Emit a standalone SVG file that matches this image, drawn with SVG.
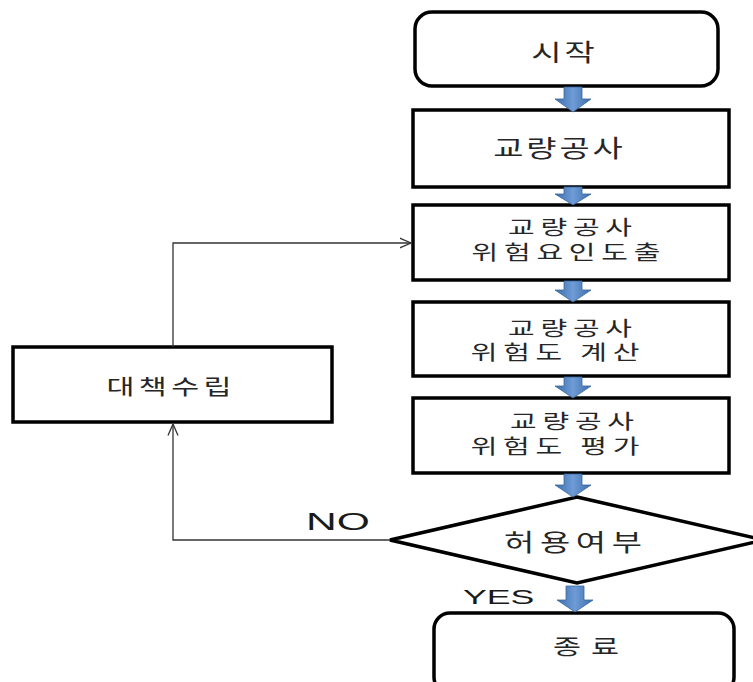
<svg xmlns="http://www.w3.org/2000/svg" width="753" height="682" viewBox="0 0 753 682">
<style>
.box{fill:#fff;stroke:#000;stroke-width:3.5}
.t{font-family:"Noto Sans CJK KR","Noto Sans",sans-serif;font-size:21px;fill:#262626;text-anchor:middle;letter-spacing:3px}
.big{font-size:23.5px;letter-spacing:2px}
.two{font-size:20px;letter-spacing:4px}
.lat{font-family:"Liberation Sans",Arial,sans-serif;fill:#1a1a1a}
.ln{fill:none;stroke:#333;stroke-width:1.3}
.blk{fill:url(#bg);stroke:#3a67a0;stroke-width:0.8}
</style>
<defs>
<linearGradient id="bg" x1="0" y1="0" x2="1" y2="0">
<stop offset="0" stop-color="#3b6cab"/>
<stop offset="0.5" stop-color="#6f9cd6"/>
<stop offset="1" stop-color="#3b6cab"/>
</linearGradient>
<marker id="oa" viewBox="0 0 12 12" markerWidth="12" markerHeight="12" refX="11.5" refY="6" orient="auto" markerUnits="userSpaceOnUse">
<path d="M0,1 L11.5,6 L0,11" fill="none" stroke="#333" stroke-width="1.3"/>
</marker>
</defs>
<rect width="753" height="682" fill="#fff"/>
<g id="start">
<rect class="box" x="415" y="12" width="303" height="74" rx="17"/>
<text class="t big" x="1" y="0" transform="translate(563,61) scale(1.4,1)">시작</text>
</g>
<g id="bridge">
<rect class="box" x="413" y="110" width="316" height="77"/>
<text class="t big" x="1" y="0" transform="translate(558,157) scale(1.4,1)">교량공사</text>
</g>
<g id="hazard">
<rect class="box" x="413" y="205" width="316" height="75"/>
<text class="t two" transform="translate(570,235) scale(1.45,1)"><tspan x="2" y="0">교량공사</tspan><tspan x="-0.8" y="25">위험요인도출</tspan></text>
</g>
<g id="calc">
<rect class="box" x="413" y="302" width="316" height="74"/>
<text class="t two" transform="translate(570,336) scale(1.45,1)"><tspan x="2" y="0">교량공사</tspan><tspan x="-8.3" y="24">위험도 계산</tspan></text>
</g>
<g id="eval">
<rect class="box" x="413" y="398" width="316" height="75"/>
<text class="t two" transform="translate(572,429) scale(1.45,1)"><tspan x="2" y="0">교량공사</tspan><tspan x="-9.7" y="25">위험도 평가</tspan></text>
</g>
<g id="decision">
<polygon class="box" points="577,497 764,540 577,583 390,540"/>
<text class="t big" x="2" y="0" transform="translate(573,551) scale(1.4,1)" style="letter-spacing:4px">허용여부</text>
</g>
<g id="end">
<rect class="box" x="434" y="613" width="300" height="80" rx="16"/>
<text class="t" x="3.5" y="0" transform="translate(586,654) scale(1.45,1)" style="letter-spacing:7px">종료</text>
</g>
<g id="measure">
<rect class="box" x="13" y="347" width="319" height="75"/>
<text class="t" x="1.5" y="0" transform="translate(169,394) scale(1.45,1)">대책수립</text>
</g>
<g id="connectors">
<path class="blk" d="M564,87 H582 V99 H591 L573,112 L555,99 H564 Z"/>
<path class="blk" d="M564,187 H582 V194 H591 L573,205 L555,194 H564 Z"/>
<path class="blk" d="M564,281 H582 V290 H591 L573,302 L555,290 H564 Z"/>
<path class="blk" d="M564,377 H582 V386 H591 L573,398 L555,386 H564 Z"/>
<path class="blk" d="M564,474 H582 V485 H591 L573,497 L555,485 H564 Z"/>
<path class="blk" d="M566,586 H584 V600 H593 L575,612 L557,600 H566 Z"/>
<path class="ln" d="M173,347 V243 H411" marker-end="url(#oa)"/>
<path class="ln" d="M390,540 H173 V424" marker-end="url(#oa)"/>
<text class="lat" x="0" y="0" transform="translate(306,530) scale(1.85,1)" style="font-size:23px">NO</text>
<text class="lat" x="0" y="0" transform="translate(463,604) scale(1.7,1)" style="font-size:21px">YES</text>
</g>
</svg>
